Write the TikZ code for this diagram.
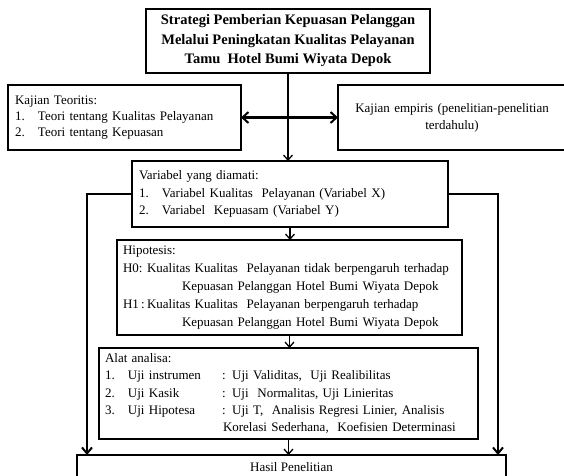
\documentclass[tikz,border=0pt]{standalone}
\usepackage{fontspec}
\setmainfont{Liberation Serif}
\usetikzlibrary{arrows.meta}
\tikzset{
  kotak/.style={draw,line width=1.2pt,inner sep=0pt,outer sep=0pt},
  isi/.style={align=left,inner ysep=0pt},
  panah/.style={-{Straight Barb[length=5pt,width=9pt,line width=1.3pt]},line width=1.3pt},
  panah tebal/.style={-{Straight Barb[length=6pt,width=10pt,line width=2pt]},line width=2.2pt},
}
\newcommand{\nomor}[1]{\makebox[23pt][l]{#1}}
\begin{document}
\begin{tikzpicture}[x=1pt,y=-1pt]
\useasboundingbox (0,0) rectangle (564,475);
\clip (0,0) rectangle (564,475);
% judul
\node[kotak,minimum width=284pt,minimum height=64pt,align=center,
  font=\fontsize{14.5}{19.5}\selectfont\bfseries] (title) at (288,41)
  {Strategi Pemberian Kepuasan Pelanggan\\Melalui Peningkatan Kualitas Pelayanan\\Tamu\ \ Hotel Bumi Wiyata Depok};
% kajian
\node[kotak,isi,minimum height=65pt,inner xsep=7pt,text width=219pt,
  font=\fontsize{13}{16}\selectfont] (teori) at (124.5,117.5)
  {Kajian Teoritis:\\\nomor{1.}Teori tentang Kualitas Pelayanan\\\nomor{2.}Teori tentang Kepuasan};
\node[kotak,align=center,minimum height=65pt,inner xsep=7pt,text width=214pt,
  font=\fontsize{13}{17}\selectfont] (empiris) at (452,117.5)
  {Kajian empiris (penelitian-penelitian\\terdahulu)};
% variabel
\node[kotak,isi,minimum height=66pt,inner xsep=7pt,text width=302pt,
  font=\fontsize{13}{17.5}\selectfont] (variabel) at (290,194)
  {Variabel yang diamati:\\\nomor{1.}Variabel Kualitas\ \ Pelayanan (Variabel X)\\\nomor{2.}Variabel\ \ Kepuasam (Variabel Y)};
% hipotesis
\node[kotak,isi,minimum height=95pt,inner xsep=6pt,text width=333pt,
  font=\fontsize{13}{18}\selectfont] (hipotesis) at (289.5,287.5)
  {Hipotesis:\\
   \makebox[24pt][l]{H0:}Kualitas Kualitas\ \ Pelayanan tidak berpengaruh terhadap\\
   \hspace*{59pt}Kepuasan Pelanggan Hotel Bumi Wiyata Depok\\
   \makebox[24pt][l]{H1\,:}Kualitas Kualitas\ \ Pelayanan berpengaruh terhadap\\
   \hspace*{59pt}Kepuasan Pelanggan Hotel Bumi Wiyata Depok};
% alat analisa
\node[kotak,isi,minimum height=91pt,inner xsep=6pt,text width=367pt,
  font=\fontsize{13}{17.2}\selectfont] (alat) at (288.5,393.5)
  {Alat analisa:\\
   \nomor{1.}\makebox[94pt][l]{Uji instrumen}: Uji Validitas,\ \ Uji Realibilitas\\
   \nomor{2.}\makebox[94pt][l]{Uji Kasik}: Uji\ \ Normalitas, Uji Linieritas\\
   \nomor{3.}\makebox[94pt][l]{Uji Hipotesa}: Uji T,\ \ Analisis Regresi Linier, Analisis\\
   \hspace*{118pt}Korelasi Sederhana,\ \ Koefisien Determinasi};
% hasil
\node[kotak,minimum width=429pt,minimum height=24pt,
  font=\fontsize{13}{16}\selectfont] (hasil) at (291.5,467) {Hasil Penelitian};
% panah
\draw[panah] (title.south) -- (title.south |- variabel.north);
\draw[{Straight Barb[length=6pt,width=11pt,line width=2pt]}-{Straight Barb[length=6pt,width=11pt,line width=2pt]},line width=2.2pt]
  (teori.east) -- (empiris.west);
\draw[panah] (variabel.south) -- (variabel.south |- hipotesis.north);
\draw[panah] (hipotesis.south) -- (hipotesis.south |- alat.north);
\draw[panah] (alat.south) -- (alat.south |- hasil.north);
\draw[panah tebal] (variabel.west) -| ([xshift=10pt]hasil.north west);
\draw[panah tebal] (variabel.east) -| ([xshift=-8pt]hasil.north east);
\end{tikzpicture}
\end{document}
